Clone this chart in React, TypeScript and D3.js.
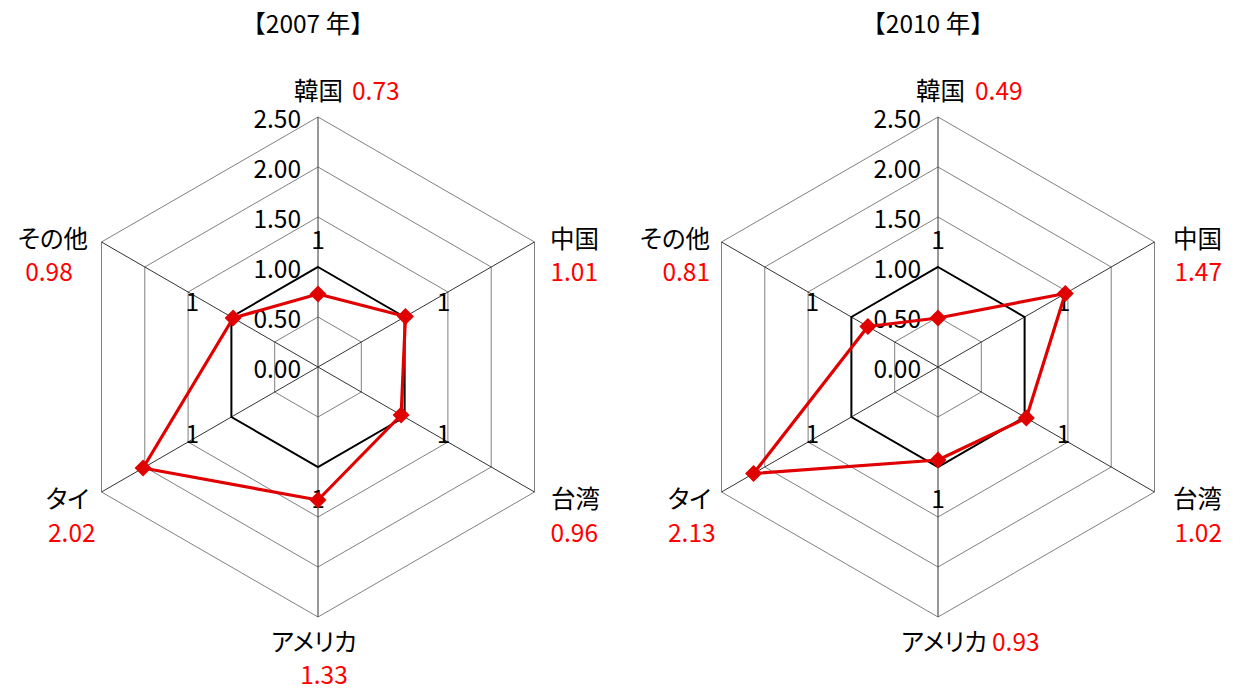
import React from "react";
import * as d3 from "d3";

const categories = ["韓国", "中国", "台湾", "アメリカ", "タイ", "その他"];
const values2007 = [0.73, 1.01, 0.96, 1.33, 2.02, 0.98];
const values2010 = [0.49, 1.47, 1.02, 0.93, 2.13, 0.81];
const referenceValues = [1, 1, 1, 1, 1, 1];
const tickValues = [0, 0.5, 1.0, 1.5, 2.0, 2.5];
const titles = ["【2007 年】", "【2010 年】"];

const W = 1234;
const H = 689;
const CY = 367;
const FONT = "'Noto Sans CJK JP', 'Noto Sans', sans-serif";
const FS = 24.5;

type Lab = { dx: number; dy: number; a: "start" | "middle" | "end" };
type LabelSpec = { name: Lab; value: Lab }[];

const layout2007: LabelSpec = [
  { name: { dx: 25, dy: -278, a: "end" }, value: { dx: 34, dy: -278, a: "start" } },
  { name: { dx: 281, dy: -130, a: "end" }, value: { dx: 280, dy: -97, a: "end" } },
  { name: { dx: 282, dy: 130, a: "end" }, value: { dx: 280, dy: 164, a: "end" } },
  { name: { dx: -4, dy: 273, a: "middle" }, value: { dx: 6, dy: 306, a: "middle" } },
  { name: { dx: -272, dy: 130, a: "start" }, value: { dx: -270, dy: 164, a: "start" } },
  { name: { dx: -230, dy: -130, a: "end" }, value: { dx: -269, dy: -97, a: "middle" } },
];
const layout2010: LabelSpec = [
  { name: { dx: 27, dy: -278, a: "end" }, value: { dx: 37, dy: -278, a: "start" } },
  { name: { dx: 284, dy: -130, a: "end" }, value: { dx: 284, dy: -97, a: "end" } },
  { name: { dx: 284, dy: 130, a: "end" }, value: { dx: 284, dy: 164, a: "end" } },
  { name: { dx: 49, dy: 273, a: "end" }, value: { dx: 54, dy: 273, a: "start" } },
  { name: { dx: -270, dy: 130, a: "start" }, value: { dx: -270, dy: 164, a: "start" } },
  { name: { dx: -228, dy: -130, a: "end" }, value: { dx: -228, dy: -97, a: "end" } },
];
// offsets of the "1" reference labels from the reference vertex
const refLabelOffsets = [
  [0, -29],
  [39, -17],
  [39, 15],
  [0, 30],
  [-39, 15],
  [-39, -17],
];

const r = d3.scaleLinear().domain([0, 2.5]).range([0, 250]);
const angle = (i: number) => (i * 2 * Math.PI) / categories.length;
const pt = (cx: number, i: number, v: number): [number, number] => [
  cx + r(v) * Math.sin(angle(i)),
  CY - r(v) * Math.cos(angle(i)),
];

function Radar({ cx, values, title, layout }: { cx: number; values: number[]; title: string; layout: LabelSpec }) {
  const lineGen = d3.line<[number, number]>().curve(d3.curveLinearClosed);
  const grid = tickValues.filter((t) => t > 0);
  const dataPts = values.map((v, i) => pt(cx, i, v));
  const refPts = referenceValues.map((v, i) => pt(cx, i, v));
  const fmt = d3.format(".2f");
  return (
    <g fontFamily={FONT} fontSize={FS}>
      <text x={cx - 10} y={22} textAnchor="middle" dominantBaseline="central" fill="#000">
        {title}
      </text>
      {grid.map((t) => (
        <path key={t} d={lineGen(categories.map((_, i) => pt(cx, i, t))) || ""} fill="none" stroke="#808080" strokeWidth={1} />
      ))}
      {categories.map((_, i) => {
        const [x, y] = pt(cx, i, 2.5);
        return <line key={i} x1={cx} y1={CY} x2={x} y2={y} stroke="#333" strokeWidth={1} />;
      })}
      <path d={lineGen(refPts) || ""} fill="none" stroke="#000" strokeWidth={2} />
      {tickValues.map((t) => (
        <text key={t} x={cx - 17} y={CY - r(t)} textAnchor="end" dominantBaseline="central" fill="#000">
          {fmt(t)}
        </text>
      ))}
      {refPts.map(([x, y], i) => (
        <text key={i} x={x + refLabelOffsets[i][0]} y={y + refLabelOffsets[i][1]} textAnchor="middle" dominantBaseline="central" fill="#000">
          {referenceValues[i]}
        </text>
      ))}
      <path d={lineGen(dataPts) || ""} fill="none" stroke="#e00000" strokeWidth={3.2} strokeLinejoin="round" />
      {dataPts.map(([x, y], i) => (
        <path key={i} d={`M${x},${y - 8.5}L${x + 8.5},${y}L${x},${y + 8.5}L${x - 8.5},${y}Z`} fill="#e00000" />
      ))}
      {categories.map((c, i) => {
        const L = layout[i];
        return (
          <g key={c}>
            <text x={cx + L.name.dx} y={CY + L.name.dy} textAnchor={L.name.a} dominantBaseline="central" fill="#000" style={{ fontFeatureSettings: '"palt"' }}>
              {c}
            </text>
            <text x={cx + L.value.dx} y={CY + L.value.dy} textAnchor={L.value.a} dominantBaseline="central" fill="#ff0000">
              {fmt(values[i])}
            </text>
          </g>
        );
      })}
    </g>
  );
}

export default function App() {
  return (
    <svg width={W} height={H} style={{ position: "absolute", left: 0, top: 0, background: "#fff" }}>
      <rect width={W} height={H} fill="#fff" />
      <Radar cx={318} values={values2007} title={titles[0]} layout={layout2007} />
      <Radar cx={938} values={values2010} title={titles[1]} layout={layout2010} />
    </svg>
  );
}
